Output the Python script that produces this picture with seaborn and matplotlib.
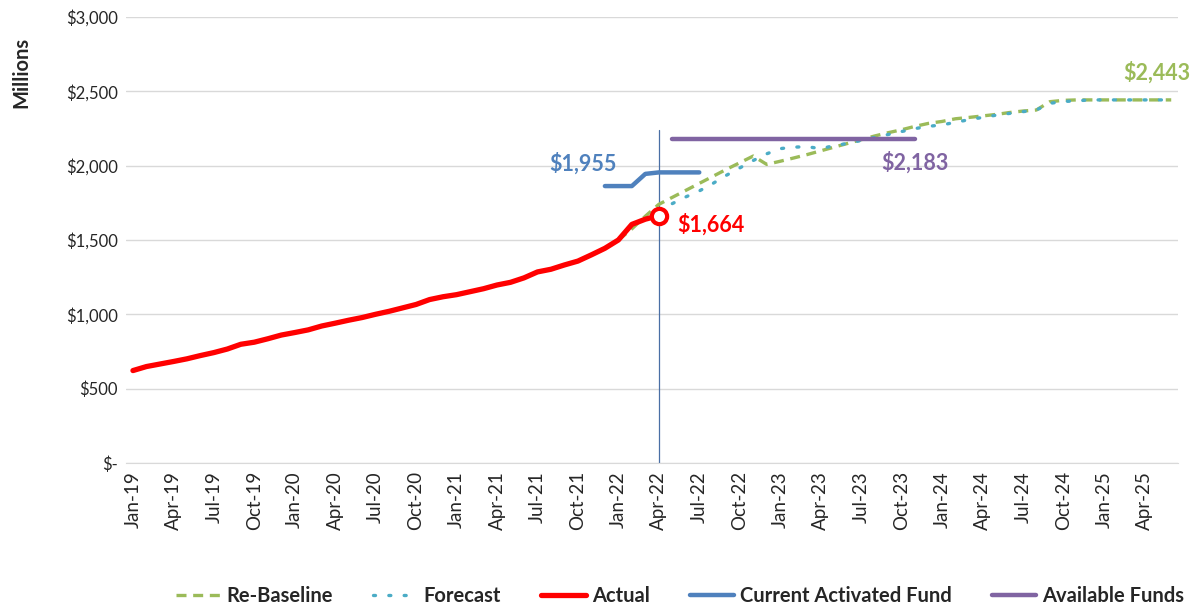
import numpy as np
import pandas as pd
import seaborn as sns
import matplotlib.pyplot as plt
from matplotlib.lines import Line2D

# month categories Jan-19 .. Jun-25
months = [m.strftime('%b-%y') for m in pd.date_range('2019-01-01', '2025-06-01', freq='MS')]

# Actual spend (Jan-19 .. Apr-22)
actual_start = 'Jan-19'
actual = [621, 648, 665, 682, 700, 722, 742, 766, 798, 812, 835, 860,
          877, 895, 921, 940, 960, 978, 1000, 1020, 1043, 1066, 1099, 1118,
          1132, 1152, 1172, 1197, 1215, 1245, 1285, 1303, 1332, 1358, 1400, 1444,
          1500, 1605, 1640, 1664]

# Re-baseline (Jan-22 .. Jun-25)
rebase_start = 'Jan-22'
rebaseline = [1500, 1575, 1660, 1740, 1787, 1834, 1881, 1928, 1975, 2020, 2065, 2009,
              2030, 2052, 2075, 2100, 2125, 2150, 2175, 2200, 2222, 2242, 2265, 2285,
              2298, 2316, 2325, 2335, 2345, 2358, 2368, 2375, 2431, 2440, 2443, 2443,
              2443, 2443, 2443, 2443, 2443, 2443]

# Forecast (May-22 .. Jun-25)
forecast_start = 'May-22'
forecast = [1745, 1790, 1830, 1880, 1935, 1985, 2035, 2080, 2115, 2125, 2128, 2115,
            2135, 2150, 2170, 2190, 2210, 2230, 2250, 2265, 2275, 2292, 2310, 2325,
            2340, 2352, 2364, 2375, 2420, 2432, 2437, 2443, 2443, 2443, 2443, 2443,
            2443, 2443]

# Current activated fund
activated_months = ['Dec-21', 'Jan-22', 'Feb-22', 'Mar-22', 'Apr-22', 'May-22', 'Jun-22', 'Jul-22']
activated = [1863, 1863, 1863, 1945, 1955, 1955, 1955, 1955]

# Available funds
available_months = ['May-22', 'Nov-23']
available = [2183, 2183]

today = 'Apr-22'


def frame(start, vals):
    i0 = months.index(start)
    return pd.DataFrame({'x': np.arange(i0, i0 + len(vals)), 'y': vals})


def frame_m(mlist, vals):
    return pd.DataFrame({'x': [months.index(m) for m in mlist], 'y': vals})


sns.set_style('white')
plt.rcParams['font.family'] = ['Lato', 'DejaVu Sans']

c_green = '#9BBB59'
c_cyan = '#4BACC6'
c_red = '#FF0000'
c_blue = '#4F81BD'
c_purple = '#8064A2'

fig, ax = plt.subplots(figsize=(12.02, 6.13), dpi=100)
fig.subplots_adjust(left=0.105, right=0.98, top=0.972, bottom=0.245)

df_a = frame(actual_start, actual)
df_r = frame(rebase_start, rebaseline)
df_f = frame(forecast_start, forecast)
df_c = frame_m(activated_months, activated)
df_v = frame_m(available_months, available)

sns.lineplot(data=df_r, x='x', y='y', ax=ax, color=c_green, lw=2.4,
             linestyle=(0, (3, 2)), zorder=3)
sns.lineplot(data=df_f, x='x', y='y', ax=ax, color=c_cyan, lw=2.4,
             linestyle=(0, (0.6, 4)), dash_capstyle='round', zorder=3)
sns.lineplot(data=df_a, x='x', y='y', ax=ax, color=c_red, lw=3.8, zorder=4)
sns.lineplot(data=df_c, x='x', y='y', ax=ax, color=c_blue, lw=3.2, zorder=4)
sns.lineplot(data=df_v, x='x', y='y', ax=ax, color=c_purple, lw=3.2, zorder=4,
             solid_capstyle='round')

# end point of actual
ax.plot(df_a['x'].iloc[-1], df_a['y'].iloc[-1], 'o', ms=11, mfc='white', mec=c_red,
        mew=3, zorder=5)

# today marker
ax.axvline(months.index(today), ymin=0, ymax=2240 / 3000, color='#4A6FA5', lw=0.9, zorder=2)

# annotations
ax.text(df_c['x'].iloc[0] - 1.6, activated[-1] + 60, '${:,}'.format(activated[-1]),
        color=c_blue, fontsize=15.5, fontweight='bold', ha='center', va='center')
ax.text(df_a['x'].iloc[-1] + 1.4, actual[-1] - 60, '${:,}'.format(actual[-1]),
        color=c_red, fontsize=15.5, fontweight='bold', ha='left', va='center')
ax.text(df_v['x'].iloc[-1] + 0.0, available[-1] - 165, '${:,}'.format(available[-1]),
        color=c_purple, fontsize=15.5, fontweight='bold', ha='center', va='center')
ax.text(df_r['x'].iloc[-1] + 1.4, rebaseline[-1] + 185, '${:,}'.format(rebaseline[-1]),
        color=c_green, fontsize=15.5, fontweight='bold', ha='right', va='center')

ax.set_xlim(-0.5, len(months) - 0.5)
ax.set_ylim(0, 3000)
ax.set_yticks(np.arange(0, 3001, 500))
ax.set_yticklabels(['$-'] + ['${:,}'.format(v) for v in range(500, 3001, 500)], fontsize=12)
ax.set_xticks(np.arange(0, len(months), 3))
ax.set_xticklabels(months[::3], rotation=90, fontsize=13.5)
ax.tick_params(axis='both', length=0, pad=6)
ax.grid(axis='y', color='#D9D9D9', lw=1)
ax.set_axisbelow(True)
for s in ['top', 'right', 'left']:
    ax.spines[s].set_visible(False)
ax.spines['bottom'].set_color('#D9D9D9')
ax.set_xlabel('')
ax.set_ylabel('')
fig.text(0.018, 0.882, 'Millions', rotation=90, fontsize=14.5, fontweight='bold',
         ha='center', va='center')

handles = [
    Line2D([], [], color=c_green, lw=2.4, linestyle=(0, (3, 2))),
    Line2D([], [], color=c_cyan, lw=2.4, linestyle=(0, (0.6, 4)), dash_capstyle='round'),
    Line2D([], [], color=c_red, lw=3.8),
    Line2D([], [], color=c_blue, lw=3.2),
    Line2D([], [], color=c_purple, lw=3.2),
]
labels = ['Re-Baseline', 'Forecast', 'Actual', 'Current Activated Fund', 'Available Funds']
fig.legend(handles, labels, loc='lower center', bbox_to_anchor=(0.566, -0.018), ncol=5,
           frameon=False, prop={'size': 14.5, 'weight': 'bold'}, handlelength=2.2,
           handletextpad=0.3, columnspacing=2.0)

plt.savefig('out.png', dpi=100)
